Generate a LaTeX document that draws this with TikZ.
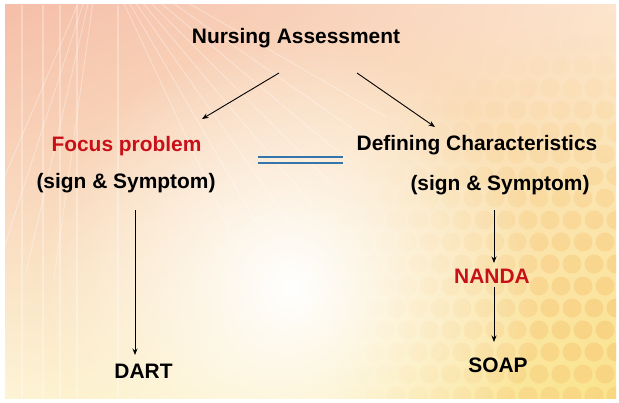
\documentclass[tikz,border=0pt]{standalone}
\usepackage{fontspec}
\setmainfont{Liberation Sans}
\usetikzlibrary{arrows.meta,fadings,shadings}

\definecolor{probred}{RGB}{200,16,24}
\definecolor{eqblue}{RGB}{52,118,172}
\definecolor{peach}{RGB}{245,190,168}
\definecolor{sand}{RGB}{252,228,206}
\definecolor{cream}{RGB}{253,244,214}
\definecolor{honey}{RGB}{250,228,140}
\definecolor{dotcol}{RGB}{245,190,105}

\tikzfading[name=glow, inner color=transparent!0, outer color=transparent!100]

\begin{document}
\begin{tikzpicture}[x=1bp, y=1bp, >={Stealth[length=6.5bp,width=5bp]}, line width=0.9bp,
    font=\fontsize{21}{25}\selectfont\bfseries,
    txt/.style={inner sep=0pt, anchor=base},
    eqline/.style={draw=eqblue, line width=1.3bp}]

    %%% Background
    \useasboundingbox (0,0) rectangle (619,402);
    \fill[white] (0,0) rectangle (619,402);
    \begin{scope}
        \clip (5,4) rectangle (616,397);
        \shade[upper left=peach, upper right=sand, lower left=cream, lower right=honey]
            (5,4) rectangle (616,397);
        % Dots in the lower right
        \foreach \r in {0,...,17}
            \foreach \c in {0,...,13} {
                \pgfmathsetmacro{\dx}{330+22*\c+11*mod(\r,2)}
                \pgfmathsetmacro{\dy}{6+22*\r}
                \pgfmathsetmacro{\op}{max(0,0.45*(1-veclen(\dx-610,\dy-80)/290))}
                \fill[dotcol, opacity=\op] (\dx,\dy) circle (9.5);
            }
        % White glow in the middle
        \fill[white, path fading=glow] (290,115) circle (250);
        % Rays in the upper left
        \foreach \a in {-30,-35,...,-65}
            \draw[white, opacity=0.35, line width=0.9bp] (100,450) -- ++(\a:330);
        \foreach \a in {-98,-103,...,-113}
            \draw[white, opacity=0.35, line width=0.9bp] (100,450) -- ++(\a:330);
        % Streaks on the left
        \foreach \x in {22,43,60,77,118}
            \draw[white, opacity=0.3, line width=2bp] (\x,4) -- (\x,397);
    \end{scope}

    %%% Texts
    \node (assess) [txt] at (296,359) {Nursing Assessment};
    \node (focus) [txt, text=probred] at (126.5,251) {Focus problem};
    \node (signL) [txt] at (126,214) {(sign \& Symptom)};
    \node (defchar) [txt] at (477,252) {Defining Characteristics};
    \node (signR) [txt] at (500,212) {(sign \& Symptom)};
    \node (nanda) [txt, text=probred] at (492,119) {NANDA};
    \node (dart) [txt] at (143.5,24) {DART};
    \node (soap) [txt] at (498,30) {SOAP};

    %%% Arrows
    \draw[->] ([shift={(-17,-30)}]assess.base) -- ([shift={(75.5,32)}]focus.base);
    \draw[->] ([shift={(61,-30)}]assess.base) -- ([shift={(-42,23)}]defchar.base);
    \draw[->] ([shift={(9,-22)}]signL.base) -- ([shift={(-8.5,23)}]dart.base);
    \draw[->] ([shift={(-6,-20)}]signR.base) -- ([shift={(2,20)}]nanda.base);
    \draw[->] ([shift={(2,-4)}]nanda.base) -- ([shift={(-4,30)}]soap.base);

    %%% Equal sign between the two columns
    \draw[eqline] ([shift={(131.5,-6)}]focus.base) -- ([shift={(-134,-7)}]defchar.base);
    \draw[eqline] ([shift={(131.5,-12)}]focus.base) -- ([shift={(-134,-13)}]defchar.base);

\end{tikzpicture}
\end{document}
